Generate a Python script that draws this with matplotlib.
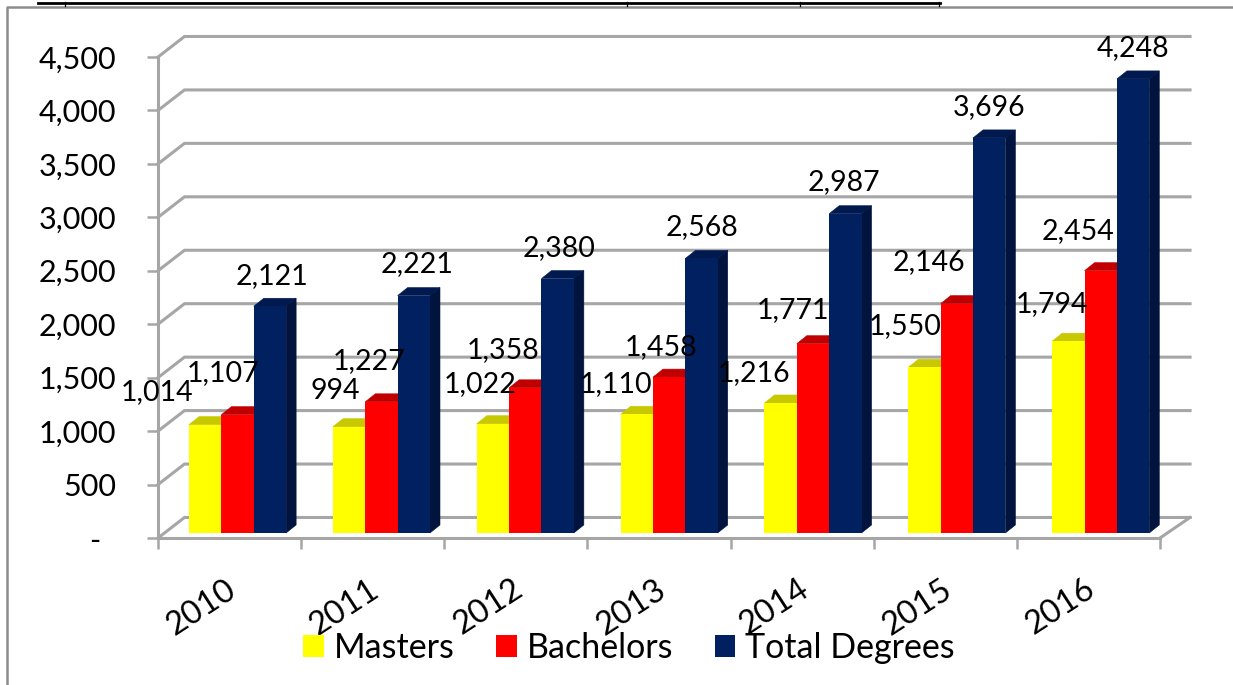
import matplotlib
matplotlib.use('Agg')
import matplotlib.pyplot as plt
from matplotlib.lines import Line2D
from matplotlib.patches import Patch, Polygon

plt.rcParams['font.family'] = ['Lato', 'DejaVu Sans']

years = ['2010', '2011', '2012', '2013', '2014', '2015', '2016']
masters = [1014, 994, 1022, 1110, 1216, 1550, 1794]
bachelors = [1107, 1227, 1358, 1458, 1771, 2146, 2454]
total = [2121, 2221, 2380, 2568, 2987, 3696, 4248]
names = ['Masters', 'Bachelors', 'Total Degrees']
yticks = [0, 500, 1000, 1500, 2000, 2500, 3000, 3500, 4000, 4500]
ylabels = ['-  ', '500', '1,000', '1,500', '2,000', '2,500', '3,000', '3,500', '4,000', '4,500']

# label nudges in pixels from the top of each bar, excel put them all over the place
masters_nudge = [(-48, 33), (-14, 36), (-13, 40), (-21, 30), (-27, 30), (-19, 41), (-16, 37)]
bachelors_nudge = [(-15, 42), (-12, 41), (-22, 38), (-8, 30), (-20, 34), (-28, 42), (-23, 40)]
total_nudge = [(2, 30), (3, 32), (1, 31), (0, 31), (-1, 32), (0, 31), (0, 31)]

GRID = '#a6a6a6'
FACE = ['#ffff00', '#ff0000', '#002060']
TOP = ['#c8c800', '#c00000', '#001a50']
SIDE = ['#c8c800', '#c00000', '#00143e']

# fake 3d depth, in data units
BACK_X = 0.185
BACK_Y = 192
BAR_W = 0.226
BAR_START = 0.217
BAR_BASE = 47
DEPTH_X = 0.07
DEPTH_Y = 75
GROUP_STEP = 1.005  # bars drift a little against the ticks in the original


def drawWalls(ax):
    '''draw the back wall gridlines and the floor'''
    for v in yticks:
        ax.plot([0, BACK_X, 7.21], [v, v + BACK_Y, v + BACK_Y], color=GRID, lw=2.2,
                clip_on=False, zorder=1, solid_joinstyle='miter')
    ax.plot([7, 7.21], [0, BACK_Y], color=GRID, lw=2.2, clip_on=False, zorder=1)


def drawBar(ax, x, value, idx):
    '''one bar made of front face, top and right side'''
    top = BAR_BASE + value
    right = x + BAR_W
    ax.add_patch(Polygon([(x, top), (x + DEPTH_X, top + DEPTH_Y), (right + DEPTH_X, top + DEPTH_Y), (right, top)],
                         facecolor=TOP[idx], edgecolor=TOP[idx], lw=0.4, zorder=3 + idx, clip_on=False))
    ax.add_patch(Polygon([(right, BAR_BASE), (right + DEPTH_X, BAR_BASE + DEPTH_Y), (right + DEPTH_X, top + DEPTH_Y), (right, top)],
                         facecolor=SIDE[idx], edgecolor=SIDE[idx], lw=0.4, zorder=3 + idx, clip_on=False))
    ax.bar(x, value, BAR_W, bottom=BAR_BASE, align='edge', color=FACE[idx], zorder=3.5 + idx)


def labelBar(ax, x, value, nudge):
    ax.annotate(f'{value:,}', xy=(x + BAR_W / 2, BAR_BASE + value), xytext=nudge,
                textcoords='offset pixels', ha='center', va='center', fontsize=20.5,
                color='black', zorder=10, annotation_clip=False)


fig = plt.figure(figsize=(12.33, 6.85), dpi=100)
ax = fig.add_axes([158 / 1233, (685 - 538) / 685, 1002 / 1233, 481 / 685])
ax.set_xlim(0, 7)
ax.set_ylim(0, 4500)

drawWalls(ax)

series = [masters, bachelors, total]
nudges = [masters_nudge, bachelors_nudge, total_nudge]
for i in range(len(years)):
    for j in range(3):
        x = i * GROUP_STEP + BAR_START + j * BAR_W
        drawBar(ax, x, series[j][i], j)
        labelBar(ax, x, series[j][i], nudges[j][i])

for side in ['top', 'right']:
    ax.spines[side].set_visible(False)
for side in ['left', 'bottom']:
    ax.spines[side].set_color(GRID)
    ax.spines[side].set_linewidth(2.2)

ax.set_yticks(yticks)
ax.set_yticklabels(ylabels, fontsize=22)
ax.tick_params(axis='y', length=8, width=1.8, color=GRID, pad=22)

ax.set_xticks(range(8))
ax.set_xticklabels([])
ax.set_xticks([i + 0.47 for i in range(7)], minor=True)
ax.set_xticklabels(years, minor=True, fontsize=23.5, rotation=33, ha='right', rotation_mode='anchor')
ax.tick_params(axis='x', which='major', length=8, width=1.8, color=GRID)
ax.tick_params(axis='x', which='minor', length=0, pad=26)

handles = [Patch(facecolor=c, edgecolor='none') for c in FACE]
fig.legend(handles, names, ncol=3, frameon=False, fontsize=24.5, loc='center',
           bbox_to_anchor=(629 / 1233, 1 - 648 / 685), handlelength=0.61, handleheight=0.61,
           handletextpad=0.29, columnspacing=1.22, borderpad=0)

# page frame and the cut off underline of the heading above the chart
fig.add_artist(Line2D([7 / 1233, 7 / 1233, 1], [0, 1 - 7 / 685, 1 - 7 / 685], color='#8c8c8c', lw=1.8))
fig.add_artist(Line2D([38 / 1233, 940 / 1233], [1 - 3 / 685, 1 - 3 / 685], color='black', lw=2.0))
for stub in [65, 627, 800, 939]:
    fig.add_artist(Line2D([stub / 1233, stub / 1233], [1 - 2 / 685, 1 - 6 / 685], color='black', lw=0.9))

fig.savefig('out.png', dpi=100, facecolor='white')
